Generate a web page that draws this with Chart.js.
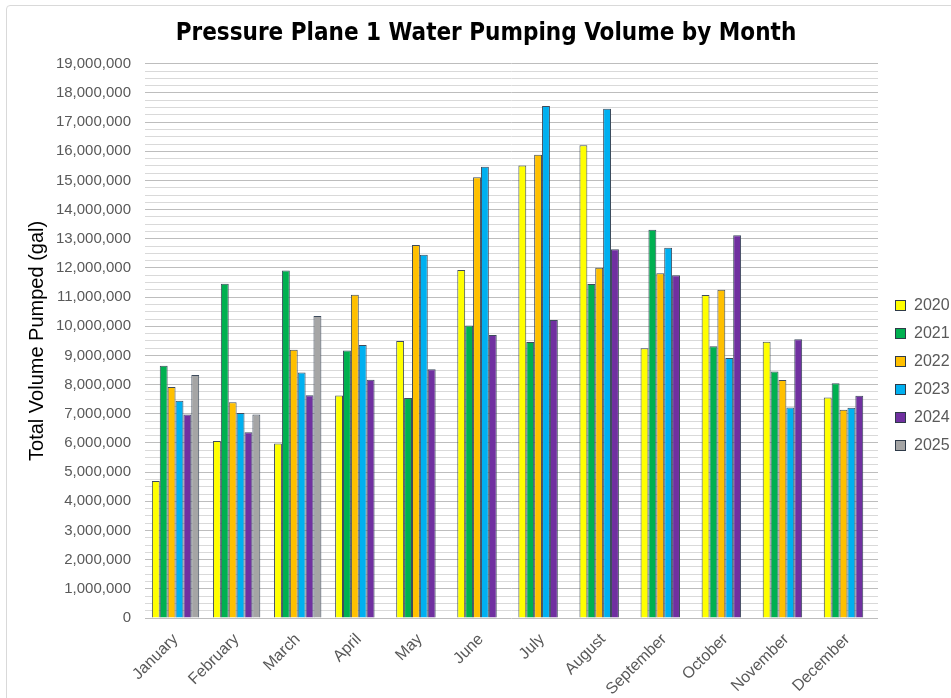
<!DOCTYPE html>
<html>
<head>
<meta charset="utf-8">
<script src="https://cdn.jsdelivr.net/npm/chart.js@4.4.1/dist/chart.umd.min.js"></script>
<style>
  html, body { margin: 0; padding: 0; background: #ffffff; }
  #frame { position: absolute; left: 6px; top: 5px; width: 1000px; height: 760px; border: 1px solid #d9d9d9; border-radius: 4px; }
  #c { position: absolute; left: 0; top: 0; }
</style>
</head>
<body>
<div id="frame"></div>
<canvas id="c" width="951" height="698"></canvas>
<script>
const months = ["January","February","March","April","May","June","July","August","September","October","November","December"];
const years = ["2020","2021","2022","2023","2024","2025"];
const v2020 = [4700000, 6070000, 5980000, 7630000, 9500000, 11930000, 15510000, 16210000, 9250000, 11070000, 9470000, 7560000];
const v2021 = [8650000, 11460000, 11910000, 9170000, 7540000, 10030000, 9460000, 11450000, 13310000, 9320000, 8450000, 8050000];
const v2022 = [7920000, 7400000, 9200000, 11080000, 12790000, 15110000, 15880000, 12010000, 11820000, 11250000, 8160000, 7140000];
const v2023 = [7450000, 7030000, 8420000, 9360000, 12450000, 15470000, 17550000, 17460000, 12690000, 8910000, 7220000, 7210000];
const v2024 = [6980000, 6370000, 7640000, 8170000, 8530000, 9700000, 10220000, 12640000, 11750000, 13120000, 9560000, 7620000];
const v2025 = [8330000, 6980000, 10350000, null, null, null, null, null, null, null, null, null];
const yTicksMajor = 1000000;
const yTicksMinor = 250000;
const yMax = 19000000;

const colors = ["#FFFF00", "#00B050", "#FFC000", "#00B0F0", "#7030A0", "#A5A5A5"];
const barBorder = "#3d4b5c";
const seriesValues = [v2020, v2021, v2022, v2023, v2024, v2025];

// legend swatch: 16px wide image, 11px square drawn at its right side
function makeSwatch(color) {
  const cv = document.createElement("canvas");
  cv.width = 16; cv.height = 11;
  const g = cv.getContext("2d");
  g.fillStyle = color;
  g.fillRect(5, 0, 11, 11);
  g.strokeStyle = "#2e3a48";
  g.lineWidth = 1;
  g.strokeRect(5.5, 0.5, 10, 10);
  return cv;
}
const swatches = colors.map(makeSwatch);

const datasets = years.map((y, i) => ({
  label: y,
  data: seriesValues[i],
  backgroundColor: colors[i],
  borderColor: barBorder,
  borderWidth: 1,
  categoryPercentage: 0.775,
  barPercentage: 1.0
}));

new Chart(document.getElementById("c"), {
  type: "bar",
  data: { labels: months, datasets: datasets },
  options: {
    responsive: false,
    animation: false,
    layout: { padding: { left: 21, right: 0, top: 0, bottom: 3 } },
    plugins: {
      title: {
        display: true,
        text: "Pressure Plane 1 Water Pumping Volume by Month",
        color: "#000000",
        font: { family: "'DejaVu Sans Condensed', 'DejaVu Sans', sans-serif", size: 24, weight: "bold" },
        padding: { top: 19, bottom: 16 }
      },
      legend: {
        position: "right",
        maxWidth: 73,
        title: { display: true, text: " ", font: { size: 10 }, padding: { top: 44, bottom: 0 } },
        labels: {
          usePointStyle: true,
          pointStyleWidth: 16,
          boxHeight: 11,
          padding: 12,
          color: "#595959",
          font: { family: "'Liberation Sans', Arial, sans-serif", size: 16 },
          generateLabels: (chart) => {
            const items = Chart.defaults.plugins.legend.labels.generateLabels(chart);
            items.forEach((it) => { it.pointStyle = swatches[it.datasetIndex]; });
            return items;
          }
        }
      },
      tooltip: { enabled: false }
    },
    scales: {
      x: {
        grid: { display: false },
        border: { display: false },
        afterFit: (scale) => { scale.height = 77; },
        ticks: {
          maxRotation: 45,
          minRotation: 45,
          color: "#595959",
          padding: 4,
          font: { family: "'Liberation Sans', Arial, sans-serif", size: 16 }
        }
      },
      y: {
        min: 0,
        max: yMax,
        afterFit: (scale) => { scale.width = 124; },
        border: { display: false },
        grid: {
          drawTicks: false,
          lineWidth: 1,
          color: (ctx) => (ctx.tick && ctx.tick.value % yTicksMajor === 0) ? "#bdbdbd" : "#d9d9d9"
        },
        ticks: {
          stepSize: yTicksMinor,
          autoSkip: false,
          padding: 14,
          color: "#595959",
          font: { family: "'Liberation Sans', Arial, sans-serif", size: 15 },
          callback: (v) => (v % yTicksMajor === 0) ? Number(v).toLocaleString("en-US") : ""
        },
        title: {
          display: true,
          text: "Total Volume Pumped (gal)",
          color: "#000000",
          font: { family: "'Liberation Sans', Arial, sans-serif", size: 20 },
          padding: { top: 4, bottom: 4 }
        }
      }
    }
  }
});
</script>
</body>
</html>
